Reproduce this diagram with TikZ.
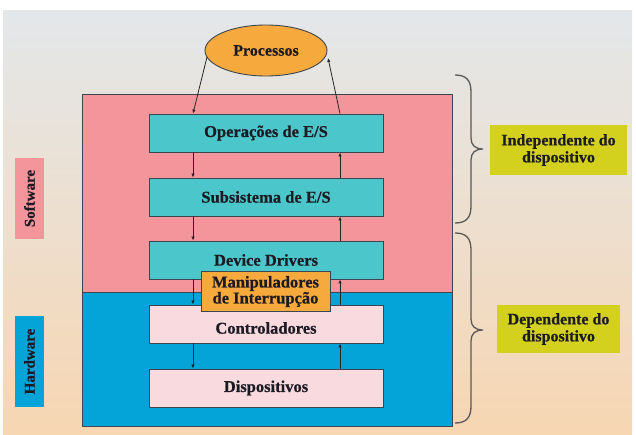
\documentclass[tikz,border=0pt]{standalone}
\usepackage{fontspec}
\setmainfont{Liberation Serif}[BoldFeatures={FakeBold=0.6}]
\usetikzlibrary{arrows.meta,shapes.geometric}
\definecolor{bgtop}{HTML}{E3E7EA}
\definecolor{bgbot}{HTML}{F7D6B2}
\definecolor{swpink}{HTML}{F3959A}
\definecolor{hwblue}{HTML}{04A4D8}
\definecolor{tealbox}{HTML}{4BC7CB}
\definecolor{lpink}{HTML}{F9DADF}
\definecolor{orng}{HTML}{F6A93C}
\definecolor{ylw}{HTML}{D3D01E}
\definecolor{txt}{HTML}{1C1A22}
\definecolor{edge}{HTML}{3C4650}
\tikzset{
  layer/.style={draw=edge, line width=0.9pt, minimum width=234pt, minimum height=38pt, inner sep=0pt, font=\bfseries\fontsize{16.5}{18}\selectfont, text=txt},
  tbox/.style={layer, fill=tealbox},
  pbox/.style={layer, fill=lpink},
  flow/.style={draw=black!85, line width=0.8pt, -{Latex[length=4pt,width=3.5pt]}},
  tag/.style={fill=ylw, inner sep=0pt, align=center, font=\bfseries\fontsize{16}{17}\selectfont, text=txt},
  side/.style={inner sep=0pt, minimum height=29pt, rotate=90, font=\bfseries\fontsize{15}{17}\selectfont, text=txt},
  bracepath/.style={draw=gray!70!black, line width=1.3pt}
}
\begin{document}
\begin{tikzpicture}[x=1pt,y=-1pt]
\useasboundingbox (0,0) rectangle (636,434);
\fill[white] (0,0) rectangle (636,434);
\shade[top color=bgtop, bottom color=bgbot] (3,10) rectangle (632,434);
% big areas
\fill[swpink] (82,94) rectangle (452,292);
\fill[hwblue] (82,292) rectangle (452,426);
\draw[edge, line width=0.9pt] (82,94) rectangle (452,426);
\draw[edge, line width=0.9pt] (82,292) -- (452,292);
% layers
\node[tbox] (ops) at (266,133) {Operações de E/S};
\node[tbox] (sub) at (266,197) {Subsistema de E/S};
\node[tbox] (dd) at (266,260) {Device Drivers};
\node[pbox] (ctl) at (266,324) {};
\node[pbox] (dsp) at (266,388) {Dispositivos};
\node[font=\bfseries\fontsize{16.5}{18}\selectfont, text=txt] (ctltext) at (266,328) {Controladores};
% processes
\node[ellipse, draw=edge, line width=0.9pt, fill=orng, minimum width=122pt, minimum height=51pt, inner sep=0pt, font=\bfseries\fontsize{16}{18}\selectfont, text=txt] (proc) at (266,50.5) {Processos};
% flows
\coordinate (pL) at (207,57);
\coordinate (pR) at (328,58);
\draw[flow] (pL) -- (ops.north -| 193,0);
\draw[flow] (ops.north -| 340,0) -- (pR);
\draw[flow] (ops.south -| 193,0) -- (sub.north -| 193,0);
\draw[flow] (sub.south -| 193,0) -- (dd.north -| 193,0);
\draw[flow] (dd.south -| 193,0) -- (ctl.north -| 193,0);
\draw[flow] (ctl.south -| 193,0) -- (dsp.north -| 193,0);
\draw[flow] (dsp.north -| 340,0) -- (ctl.south -| 340,0);
\draw[flow] (ctl.north -| 340,0) -- (dd.south -| 340,0);
\draw[flow] (dd.north -| 340,0) -- (sub.south -| 340,0);
\draw[flow] (sub.north -| 340,0) -- (ops.south -| 340,0);
\node[draw=edge, line width=0.9pt, fill=orng, minimum width=129pt, minimum height=40pt, inner sep=0pt, align=center, font=\bfseries\fontsize{16.5}{15}\selectfont, text=txt] (man) at (265.5,291.5) {Manipuladores\\de Interrupção};
% side labels
\node[side, fill=swpink, minimum width=81pt] (sw) at (29.5,198.5) {Software};
\node[side, fill=hwblue, minimum width=91pt] (hw) at (29.5,361.5) {Hardware};
% braces
\draw[bracepath] (455,75) .. controls (466,75) and (471,80) .. (471,92) -- (471,138)
  .. controls (471,145) and (475,149) .. (483,149)
  .. controls (475,149) and (471,153) .. (471,160) -- (471,206)
  .. controls (471,218) and (466,223) .. (455,223);
\draw[bracepath] (455,233) .. controls (466,233) and (471,238) .. (471,250) -- (471,319)
  .. controls (471,326) and (475,330) .. (483,330)
  .. controls (475,330) and (471,334) .. (471,341) -- (471,406)
  .. controls (471,418) and (466,423) .. (455,423);
% tags
\node[tag, minimum width=137pt, minimum height=50pt] (ind) at (558.5,150) {Independente do\\dispositivo};
\node[tag, minimum width=123pt, minimum height=48pt] (dep) at (558.5,329) {Dependente do\\dispositivo};
\end{tikzpicture}
\end{document}
